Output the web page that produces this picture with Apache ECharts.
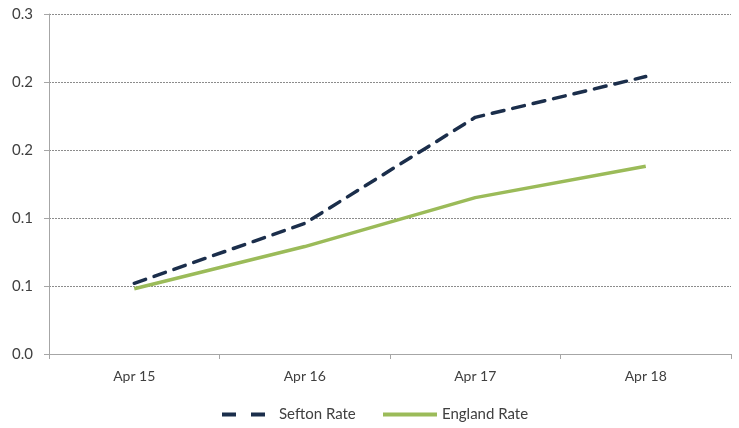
<!DOCTYPE html>
<html>
<head>
<meta charset="utf-8">
<script src="https://cdn.jsdelivr.net/npm/echarts@6/dist/echarts.min.js"></script>
<style>
  html, body { margin: 0; padding: 0; background: #ffffff; }
  #chart { width: 739px; height: 428px; }
</style>
</head>
<body>
<div id="chart"></div>
<script>
// Monthly rates, April of each year
const categories = ['Apr 15', 'Apr 16', 'Apr 17', 'Apr 18'];
const seftonRate = [0.052, 0.096, 0.174, 0.204];
const englandRate = [0.048, 0.079, 0.115, 0.138];
// y-axis labels, one decimal place, one per gridline from 0 upwards
const yTickLabels = ['0.0', '0.1', '0.1', '0.2', '0.2', '0.3'];

const FONT = 'Lato, "Open Sans", sans-serif';
const TEXT = '#404040';
const NAVY = '#1B2E4B';
const GREEN = '#9BBB59';

const chart = echarts.init(document.getElementById('chart'), null, { renderer: 'canvas' });
chart.setOption({
  animation: false,
  grid: { left: 49, right: 8, top: 14, bottom: 74, containLabel: false },
  xAxis: {
    type: 'category',
    data: categories,
    boundaryGap: true,
    axisLine: { lineStyle: { color: '#A6A6A6', width: 1 } },
    axisTick: { show: true, length: 5, lineStyle: { color: '#A6A6A6' } },
    axisLabel: { color: TEXT, fontFamily: FONT, fontSize: 14, margin: 15 }
  },
  yAxis: {
    type: 'value',
    min: 0,
    max: 0.25,
    interval: 0.05,
    axisLine: { show: true, lineStyle: { color: '#A6A6A6', width: 1 } },
    axisTick: { show: true, length: 5, lineStyle: { color: '#A6A6A6' } },
    axisLabel: {
      color: TEXT, fontFamily: FONT, fontSize: 15, margin: 16,
      formatter: function (v) {
        return yTickLabels[Math.round(v / 0.05)];
      }
    },
    splitLine: { show: true, lineStyle: { color: '#8C8C8C', width: 1, type: [2, 1] } }
  },
  legend: [
    {
      data: ['Sefton Rate'],
      left: 222, top: 407, padding: 0,
      itemWidth: 43, itemHeight: 4,
      // two short dashes
      icon: 'path://M0,0H14V4H0Z M29,0H43V4H29Z',
      textStyle: { color: TEXT, fontFamily: FONT, fontSize: 15, padding: [0, 0, 0, 9] }
    },
    {
      data: ['England Rate'],
      left: 383, top: 407, padding: 0,
      itemWidth: 54, itemHeight: 4,
      icon: 'path://M0,0H54V4H0Z',
      textStyle: { color: TEXT, fontFamily: FONT, fontSize: 15 }
    }
  ],
  series: [
    {
      name: 'Sefton Rate',
      type: 'line',
      data: seftonRate,
      symbol: 'none',
      lineStyle: { color: NAVY, width: 3.5, type: [12, 9], cap: 'round' },
      itemStyle: { color: NAVY }
    },
    {
      name: 'England Rate',
      type: 'line',
      data: englandRate,
      symbol: 'none',
      lineStyle: { color: GREEN, width: 3.5, type: 'solid' },
      itemStyle: { color: GREEN }
    }
  ]
});
</script>
</body>
</html>
